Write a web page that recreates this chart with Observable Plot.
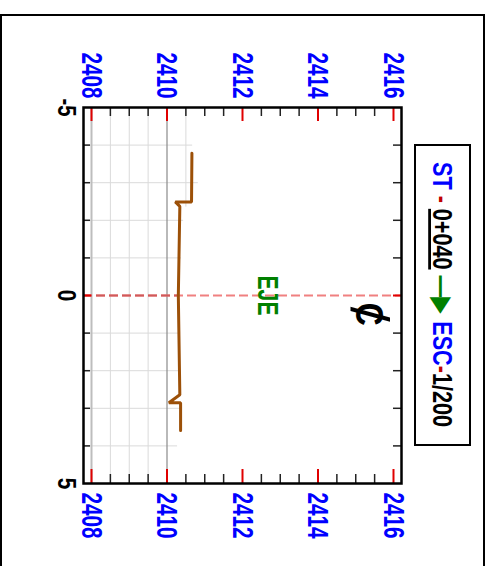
<!DOCTYPE html>
<html><head><meta charset="utf-8">
<script src="https://cdn.jsdelivr.net/npm/d3@7"></script>
<script src="https://cdn.jsdelivr.net/npm/@observablehq/plot@0.6"></script>
<style>html,body{margin:0;padding:0;background:#fff}</style>
</head><body><div id="chart"></div>
<script>
// ---- data ----
const elevMajor = [2408, 2410, 2412, 2414, 2416];
const elevMinor = [2408.5, 2409, 2409.5, 2410.5, 2411, 2411.5, 2412.5, 2413, 2413.5, 2414.5, 2415, 2415.5];
const offLabels = [-5, 0, 5];
const offMinor = [-4, -3, -2, -1, 1, 2, 3, 4];
const terrainOff  = [-3.78, -2.49, -2.49, -2.37, 0, 2.64, 2.85, 2.85, 3.59];
const terrainElev = [2410.66, 2410.65, 2410.22, 2410.34, 2410.30, 2410.34, 2410.05, 2410.36, 2410.36];
const gridHOff = [-4, -3, -2, -1, 1, 2, 3, 4];
const gridHEnd = [2410.68, 2410.83, 2410.44, 2410.38, 2410.36, 2410.36, 2410.36, 2410.28];
const gridVElev  = [2408.5, 2409, 2409.5, 2410.5];
const gridVFrom  = [-5, -5, -5, -5];
const gridVTo    = [5, 5, 5, -2.35];
const gridVStrong = [2408, 2410];
const axisOff = 0;
const ejeLabel = {t: "EJE", elev: 2412.66, off: 0};
const clParts = ["C", "/"];
const clElev = 2415.33, clOff = 0.5;
const titleParts = ["ST", " - ", "0+040", " —", "▶ ", "ESC", "-", "1/200"];

// ---- layout ----
const W = 491, H = 566, mL = 83, mR = 90, mT = 107, mB = 83;
const frameW = W - mL - mR, frameH = H - mT - mB;
const xDom = [2407.788, 2416.212];

const terrain = terrainOff.map((o, i) => ({off: o, elev: terrainElev[i]}));
const gridH = gridHOff.map((o, i) => ({off: o, end: gridHEnd[i]}));
const gridV = gridVElev.map((e, i) => ({elev: e, a: gridVFrom[i], b: gridVTo[i]}));
const cl = clParts.map(t => ({t, elev: clElev, off: clOff}));
const font = "'Liberation Sans', Arial, sans-serif";

const plot = Plot.plot({
  width: W, height: H,
  marginLeft: mL, marginRight: mR, marginTop: mT, marginBottom: mB,
  x: {domain: xDom, axis: null},
  y: {domain: [-5, 5], reverse: true, axis: null},
  style: {background: "#fff", fontFamily: font},
  marks: [
    Plot.ruleY(gridH, {y: "off", x1: xDom[0], x2: "end", stroke: "#dadada", strokeWidth: 1}),
    Plot.ruleX(gridV, {x: "elev", y1: "a", y2: "b", stroke: "#dadada", strokeWidth: 1}),
    Plot.ruleX([gridVStrong[0]], {x: d => d, stroke: "#bdbdbd", strokeWidth: 2}),
    Plot.ruleX([gridVStrong[1]], {x: d => d, stroke: "#8a8a8a", strokeWidth: 1.2}),
    Plot.ruleY([axisOff], {y: d => d, stroke: "#f08080", strokeWidth: 2, strokeDasharray: "9,4"}),
    Plot.ruleY([axisOff], {y: d => d, x1: xDom[0], x2: 2410.3, stroke: "#d05a5a", strokeWidth: 2, strokeDasharray: "9,4"}),
    Plot.line(terrain, {x: "elev", y: "off", stroke: "#9c5008", strokeWidth: 3, strokeLinejoin: "miter"}),
    // ticks
    Plot.ruleX(elevMajor, {x: d => d, insetBottom: frameH - 14, stroke: "#e00000", strokeWidth: 2}),
    Plot.ruleX(elevMajor, {x: d => d, insetTop: frameH - 14, stroke: "#e00000", strokeWidth: 2}),
    Plot.ruleX(elevMinor, {x: d => d, insetBottom: frameH - 9, stroke: "#222", strokeWidth: 1.5}),
    Plot.ruleX(elevMinor, {x: d => d, insetTop: frameH - 9, stroke: "#222", strokeWidth: 1.5}),
    Plot.ruleY(offMinor, {y: d => d, insetRight: frameW - 7, stroke: "#222", strokeWidth: 1.5}),
    Plot.ruleY(offMinor, {y: d => d, insetLeft: frameW - 8, stroke: "#222", strokeWidth: 1.5}),
    Plot.ruleY([axisOff], {y: d => d, insetRight: frameW - 8, stroke: "#e00000", strokeWidth: 2}),
    Plot.ruleY([axisOff], {y: d => d, insetLeft: frameW - 8, stroke: "#e00000", strokeWidth: 2}),
    Plot.frame({stroke: "#000", strokeWidth: 2.5}),
    // labels
    Plot.text(elevMajor, {x: d => d, frameAnchor: "top", dy: -32, text: d => String(d), rotate: 90,
      fill: "#0000ff", fontSize: 30, fontWeight: "bold", textAnchor: "middle", lineAnchor: "middle", ariaDescription: "lbl-top"}),
    Plot.text(elevMajor, {x: d => d, frameAnchor: "bottom", dy: 32, text: d => String(d), rotate: 90,
      fill: "#0000ff", fontSize: 30, fontWeight: "bold", textAnchor: "middle", lineAnchor: "middle", ariaDescription: "lbl-bottom"}),
    Plot.text(offLabels, {y: d => d, frameAnchor: "left", dx: -17, text: d => String(d), rotate: 90,
      fill: "#000", fontSize: 26, fontWeight: "bold", textAnchor: "middle", lineAnchor: "middle", ariaDescription: "lbl-left"}),
    Plot.text([ejeLabel], {x: "elev", y: "off", text: "t", rotate: 90, fill: "#008000",
      fontSize: 29, fontWeight: "bold", textAnchor: "middle", lineAnchor: "middle", ariaDescription: "lbl-eje"}),
    Plot.text(cl.slice(0, 1), {x: "elev", y: "off", text: "t", rotate: 90, fill: "#000",
      fontSize: 38, fontWeight: "bold", textAnchor: "middle", lineAnchor: "middle", ariaDescription: "cl-c"}),
    Plot.text(cl.slice(1), {x: "elev", y: "off", text: "t", rotate: 90, fill: "#000",
      fontSize: 54, fontWeight: "normal", textAnchor: "middle", lineAnchor: "middle", ariaDescription: "cl-slash"})
  ]
});

const svg = d3.select(plot);
// condensed lettering: force the drawn length of each label
const charW = {"-": 6.5, "/": 5.5, "+": 11.5};
const lenOf = (t, digitW) => [...t].reduce((s, c) => s + (charW[c] ?? digitW), 0);
const fit = (key, len) => svg.selectAll(`g[aria-description="${key}"] text`).each(function () {
  d3.select(this).attr("textLength", typeof len === "function" ? len(this.textContent) : len)
    .attr("lengthAdjust", "spacingAndGlyphs");
});
fit("lbl-top", 46);
fit("lbl-bottom", 46);
fit("lbl-left", t => lenOf(t, 11.5));
fit("lbl-eje", 40);
fit("cl-c", 23);

// outer border
svg.append("rect").attr("x", 1).attr("y", 15).attr("width", 483).attr("height", 560)
  .attr("fill", "none").attr("stroke", "#000").attr("stroke-width", 2);

// title box
svg.append("rect").attr("x", 415).attr("y", 145).attr("width", 55).attr("height", 300)
  .attr("fill", "#fff").attr("stroke", "#000").attr("stroke-width", 2);
const colors = ["#0000ff", "#c00000", "#000", "#008000", "#008000", "#0000ff", "#c00000", "#000"];
const title = svg.append("text")
  .attr("transform", "translate(433,294.5) rotate(90)")
  .attr("text-anchor", "middle")
  .attr("textLength", 265).attr("lengthAdjust", "spacingAndGlyphs")
  .attr("font-family", font).attr("font-weight", "bold").attr("font-size", 28);
titleParts.forEach((p, i) => {
  const ts = title.append("tspan").attr("fill", colors[i]).text(p);
  if (p === "0+040") ts.attr("text-decoration", "underline");
  if (p.includes("▶")) ts.attr("font-family", "'DejaVu Sans'");
});

document.getElementById("chart").appendChild(plot);
</script>
</body></html>
